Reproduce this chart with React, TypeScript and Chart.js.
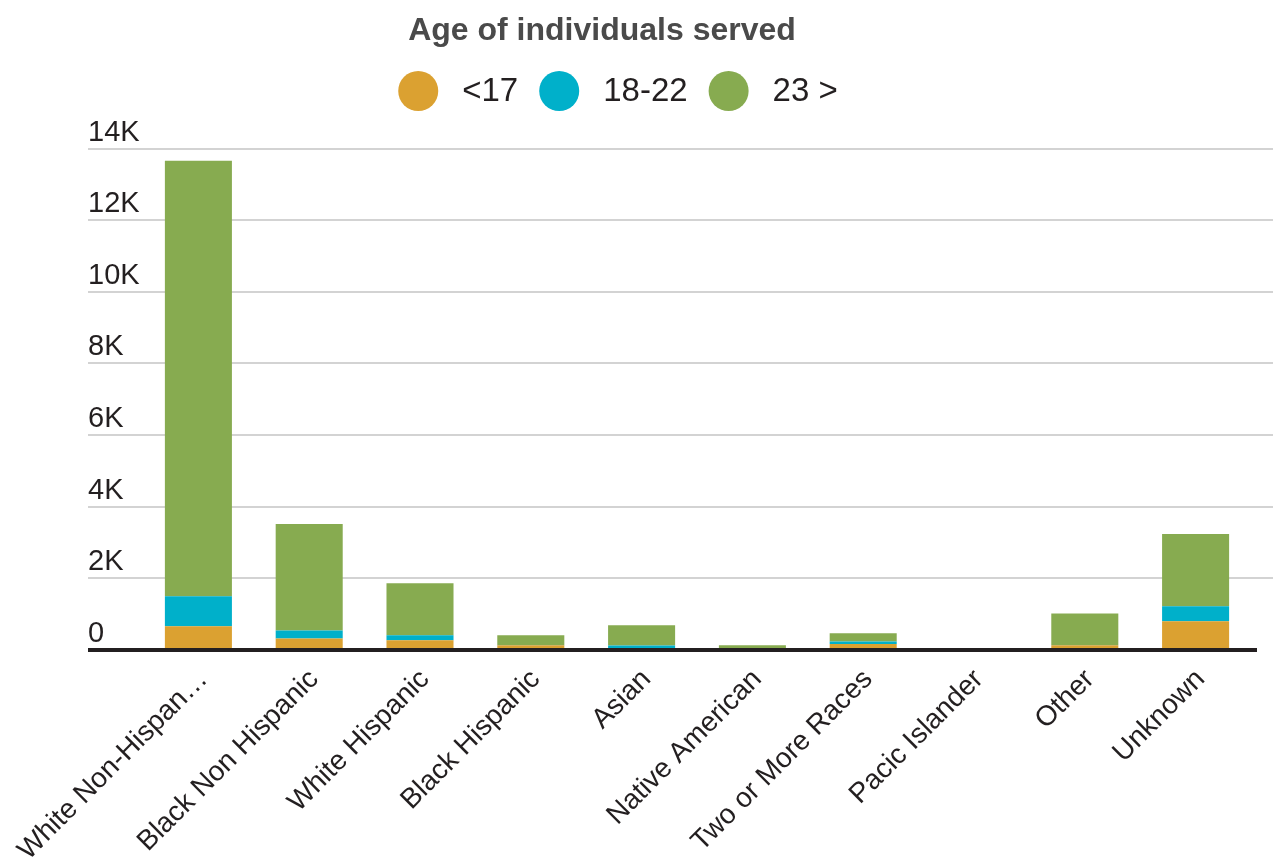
import React, { useEffect, useRef } from 'react';
import { Chart, registerables } from 'chart.js';

Chart.register(...registerables);

const chartTitle = 'Age of individuals served';
const categories = [
  'White Non-Hispan…',
  'Black Non Hispanic',
  'White Hispanic',
  'Black Hispanic',
  'Asian',
  'Native American',
  'Two or More Races',
  'Pacic Islander',
  'Other',
  'Unknown',
];
const seriesLabels = ['<17', '18-22', '23 >'];
const seriesColors = ['#DBA131', '#00B0CA', '#87AB50'];
const under17 = [660, 320, 270, 130, 10, 5, 170, 5, 130, 800];
const age18to22 = [840, 225, 140, 10, 115, 5, 70, 0, 10, 420];
const over23 = [12160, 2970, 1450, 270, 565, 120, 225, 5, 880, 2020];
const yMin = 0;
const yMax = 14000;
const yStep = 2000;

const FONT = '"Liberation Sans", Arial, Helvetica, sans-serif';
const TEXT = '#231F20';
const GRID = '#D3D3D3';

const overlayPlugin = {
  id: 'overlay',
  afterDatasetsDraw(chart: any) {
    const ctx = chart.ctx;
    const ys = chart.scales.y;
    const y0 = ys.getPixelForValue(0);
    ctx.save();
    ctx.strokeStyle = TEXT;
    ctx.lineWidth = 4;
    ctx.beginPath();
    ctx.moveTo(ys.left, y0);
    ctx.lineTo(chart.chartArea.right + 6, y0);
    ctx.stroke();
    ctx.restore();
  },
  afterDraw(chart: any) {
    const ctx = chart.ctx;
    ctx.save();
    // title
    ctx.font = `bold 32px ${FONT}`;
    ctx.fillStyle = '#4A4A4A';
    ctx.textAlign = 'center';
    ctx.textBaseline = 'alphabetic';
    ctx.fillText(chartTitle, 602, 40);
    // legend
    ctx.font = `33px ${FONT}`;
    const r = 20;
    const gapText = 24;
    const gapItem = 21;
    const widths = chart.data.datasets.map((d: any) => ctx.measureText(d.label).width);
    const total =
      widths.reduce((s: number, w: number) => s + 2 * r + gapText + w, 0) + gapItem * (widths.length - 1);
    let x = 618 - total / 2;
    ctx.textAlign = 'left';
    chart.data.datasets.forEach((d: any, i: number) => {
      ctx.fillStyle = d.backgroundColor;
      ctx.beginPath();
      ctx.arc(x + r, 91, r, 0, Math.PI * 2);
      ctx.fill();
      ctx.fillStyle = TEXT;
      ctx.fillText(d.label, x + 2 * r + gapText, 101);
      x += 2 * r + gapText + widths[i] + gapItem;
    });
    ctx.restore();
  },
};

export default function App() {
  const ref = useRef<HTMLCanvasElement>(null);
  useEffect(() => {
    if (!ref.current) return;
    const gridColor = (c: any) => (c.tick && c.tick.value === 0 ? 'rgba(0,0,0,0)' : GRID);
    const chart = new Chart(ref.current, {
      type: 'bar',
      data: {
        labels: categories,
        datasets: [under17, age18to22, over23].map((data, i) => ({
          label: seriesLabels[i],
          data,
          backgroundColor: seriesColors[i],
          borderWidth: 0,
          barPercentage: 1,
          categoryPercentage: 0.605,
        })),
      },
      options: {
        animation: false,
        responsive: false,
        layout: { padding: { left: 88, right: 3, top: 148.5, bottom: 0 } },
        plugins: {
          legend: { display: false },
          title: { display: false },
          tooltip: { enabled: false },
        },
        scales: {
          x: {
            stacked: true,
            grid: { display: false },
            border: { display: false },
            ticks: {
              autoSkip: false,
              maxRotation: 45,
              minRotation: 45,
              color: TEXT,
              font: { family: FONT, size: 28 },
              padding: 5,
              labelOffset: 5,
            },
            afterFit: (s: any) => {
              s.height = 211;
              s.paddingLeft = 0;
              s.paddingRight = 0;
            },
          },
          y: {
            stacked: true,
            min: yMin,
            max: yMax,
            border: { display: false },
            grid: { color: gridColor, lineWidth: 2, tickLength: 55, drawTicks: true },
            ticks: {
              stepSize: yStep,
              crossAlign: 'far',
              labelOffset: -16,
              color: TEXT,
              font: { family: FONT, size: 29 },
              callback: (v: any) => (v === 0 ? '0' : `${Number(v) / 1000}K`),
            },
            afterFit: (s: any) => {
              s.width = 55;
              s.paddingTop = 0;
              s.paddingBottom = 0;
            },
          },
          y2: {
            position: 'right',
            min: yMin,
            max: yMax,
            border: { display: false },
            grid: { color: gridColor, lineWidth: 2, tickLength: 22, drawTicks: true, drawOnChartArea: false },
            ticks: { stepSize: yStep, display: false },
            afterFit: (s: any) => {
              s.width = 22;
              s.paddingTop = 0;
              s.paddingBottom = 0;
            },
          },
        },
      },
      plugins: [overlayPlugin],
    } as any);
    return () => chart.destroy();
  }, []);
  return (
    <div style={{ position: 'absolute', left: 0, top: 0, width: 1276, height: 861, background: '#fff' }}>
      <canvas ref={ref} width={1276} height={861} style={{ display: 'block' }} />
    </div>
  );
}
